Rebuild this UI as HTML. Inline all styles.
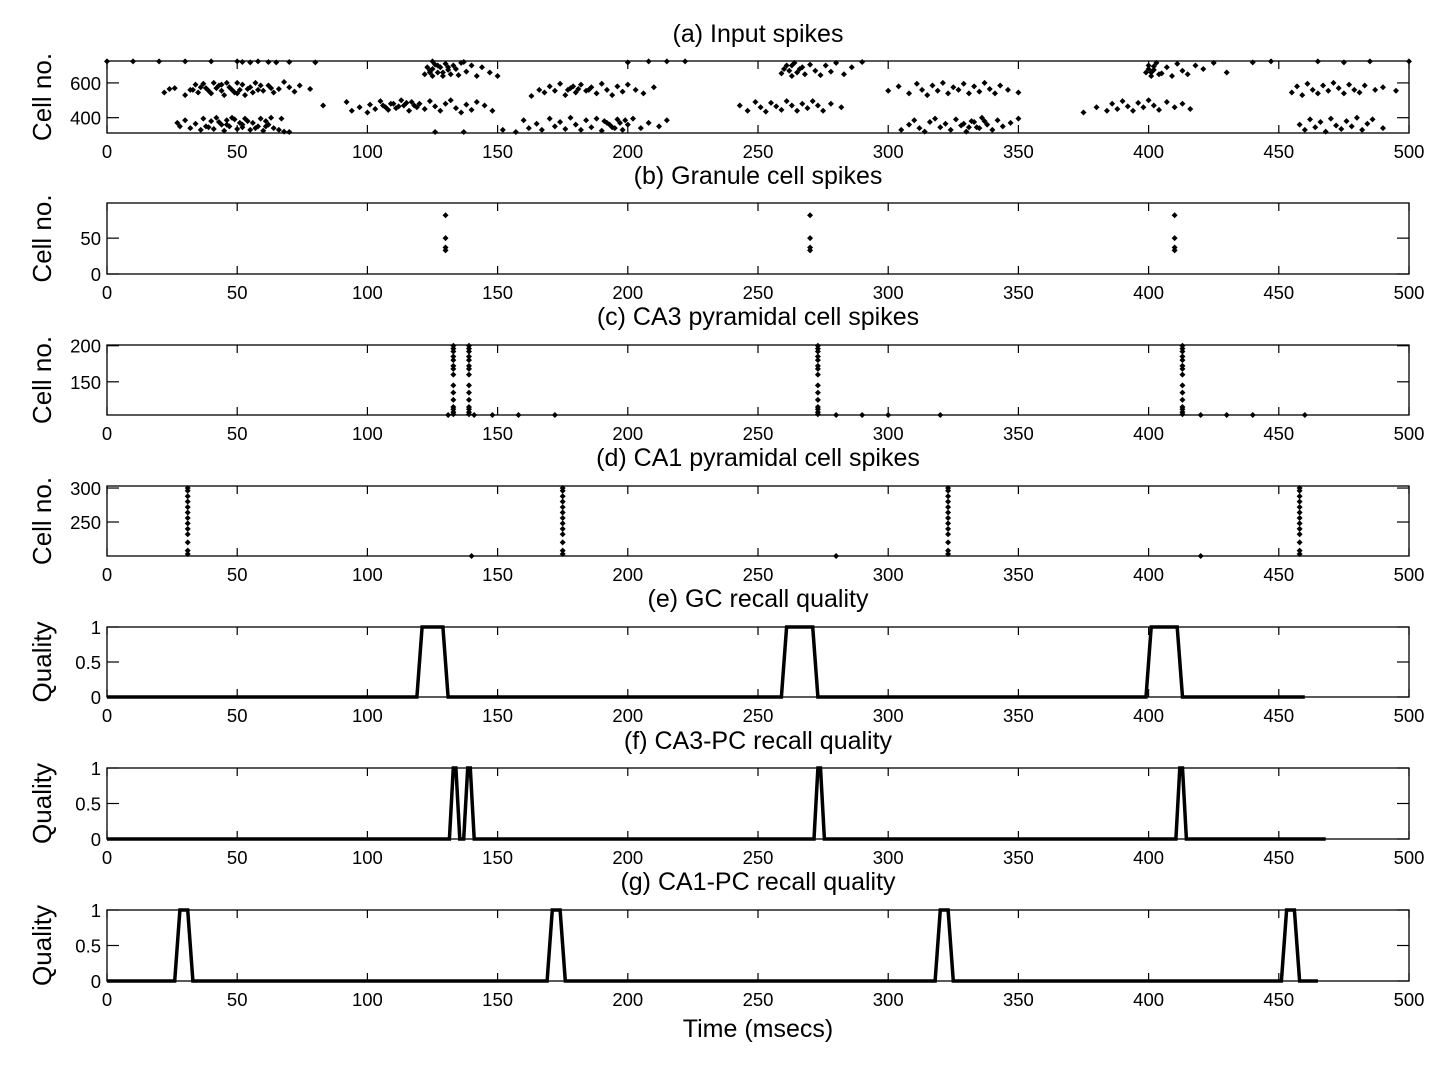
<!DOCTYPE html>
<html><head><meta charset="utf-8">
<style>
html,body{margin:0;padding:0;background:#fff;}
svg{display:block;font-family:"Liberation Sans",sans-serif;}
</style></head>
<body>
<svg id="fig" width="1455" height="1072" viewBox="0 0 1455 1072" xmlns="http://www.w3.org/2000/svg"></svg>
<script>
// ---------- data ----------
const xTicks = [0,50,100,150,200,250,300,350,400,450,500];
const panelTitles = ["(a) Input spikes","(b) Granule cell spikes","(c) CA3 pyramidal cell spikes","(d) CA1 pyramidal cell spikes","(e) GC recall quality","(f) CA3-PC recall quality","(g) CA1-PC recall quality"];
const yLabels = ["Cell no.","Cell no.","Cell no.","Cell no.","Quality","Quality","Quality"];
const yRanges = [[312,726],[0,99],[104,201],[200,303],[0,1],[0,1],[0,1]];
const yTicksA = [400,600];
const yTicksB = [0,50];
const yTicksC = [150,200];
const yTicksD = [250,300];
const yTicksQ = [0,0.5,1];
// input spikes "time,cell" pairs
const inputSpikes = (
"0,724 10,724 20,724 30,724 40,724 50,724 52,720 55,718 58,724 62,720 65,718 70,720 80,718 125,724 137,720 " +
"22,545 24,565 26,570 30,530 32,560 34,590 35,545 37,595 38,570 40,540 41,600 43,585 44,555 45,530 46,600 47,575 49,545 50,600 51,560 52,590 53,530 55,575 56,545 57,600 58,560 60,555 62,585 64,545 66,565 68,605 70,575 72,550 74,585 78,565 " +
"33,560 36,575 39,555 42,570 44,590 48,560 50,540 54,565 59,585 63,570 " +
"27,370 28,350 30,385 32,340 34,365 36,330 37,395 38,350 40,380 41,335 42,400 44,360 45,325 46,385 47,350 48,400 50,335 51,370 52,345 53,395 55,330 56,370 58,350 59,395 60,325 61,380 62,360 63,400 64,340 66,330 67,395 68,320 70,318 " +
"39,345 43,375 46,360 49,390 52,360 54,380 57,340 61,350 " +
"83,470 92,490 94,440 97,460 100,430 101,475 103,450 105,495 106,470 108,445 110,480 111,455 113,500 114,470 116,440 117,490 119,460 120,480 122,450 124,495 126,465 128,440 130,480 132,500 134,455 136,430 138,475 140,445 142,490 145,470 148,440 " +
"107,460 109,480 112,465 115,485 118,470 " +
"122,650 123,690 124,670 125,640 126,705 127,660 128,690 129,640 130,710 131,675 132,650 133,700 134,680 135,645 136,715 138,665 140,700 142,640 144,690 147,660 150,640 126,318 137,318 " +
"124,660 125,680 127,700 129,660 131,690 " +
"163,525 166,560 168,545 170,580 172,555 174,595 176,530 178,570 180,545 182,590 184,555 186,575 188,540 190,595 192,560 194,530 196,580 198,550 200,590 203,560 206,540 210,575 " +
"177,560 179,580 181,565 185,560 " +
"160,385 162,340 165,365 167,330 170,395 172,350 174,375 176,335 178,400 180,360 182,330 184,385 186,345 188,395 190,325 192,370 194,345 196,390 198,330 200,360 202,395 205,340 208,370 212,350 215,385 " +
"191,380 193,360 195,340 197,370 199,385 " +
"152,330 157,318 200,718 208,724 215,724 222,724 " +
"243,470 246,440 249,490 251,460 253,435 255,485 257,465 259,445 261,495 263,470 265,440 267,480 269,455 271,495 273,470 275,440 278,480 282,460 " +
"259,655 261,700 262,670 263,640 264,715 266,680 268,650 270,705 272,670 274,645 276,700 278,665 280,715 283,650 286,690 290,720 " +
"260,680 263,700 265,660 267,690 " +
"300,555 304,580 308,540 311,595 313,560 315,530 317,585 319,555 321,600 323,540 325,575 327,560 329,595 331,540 333,580 335,550 337,600 339,565 341,540 343,585 346,560 350,545 " +
"305,330 308,360 310,385 312,340 314,320 316,375 318,395 320,345 322,365 324,330 326,390 328,355 330,320 332,380 334,345 336,400 338,360 340,330 342,385 344,350 347,370 350,395 " +
"329,365 331,345 333,375 335,340 337,380 " +
"375,430 380,460 384,440 386,480 388,450 390,495 392,465 394,440 396,485 398,460 400,500 402,470 404,445 407,490 410,460 413,480 416,450 " +
"399,660 400,700 401,640 402,675 403,715 405,655 407,690 409,640 411,710 413,670 415,650 418,700 421,680 425,715 430,660 " +
"400,680 401,660 402,695 404,650 " +
"455,545 457,580 459,530 461,595 463,560 465,540 467,585 469,555 471,600 473,570 475,540 477,590 479,560 481,545 483,585 487,560 490,575 495,555 " +
"458,360 460,330 462,390 464,345 466,375 468,320 470,395 472,355 474,335 476,380 478,350 480,400 482,330 484,365 486,390 490,340 " +
"440,718 447,724 465,724 475,718 485,724 500,724"
).split(" ").map(s=>s.split(",").map(Number));
// granule
const gcTimes = [130,270,410];
const gcCells = [33,37,50,82];
// CA3
const ca3Times = [133,139,273,413];
const ca3Cells = [105,108,112,115,125,135,145,160,168,172,180,185,192,196,200];
const ca3ScatterT = [131,141,148,158,172,280,290,300,320,420,430,440,460];
const ca3ScatterC = [104,104,104,104,104,104,104,104,104,104,104,104,104];
// CA1
const ca1Times = [31,175,323,458];
const ca1Cells = [203,208,220,232,240,248,256,264,272,280,288,296,300];
const ca1ScatterT = [140,280,420];
const ca1ScatterC = [200,200,200];
// quality traces
const qualE_t = [0,119,121,129,131,259,261,271,273,399,401,411,413,460];
const qualE_q = [0,0,1,1,0,0,1,1,0,0,1,1,0,0];
const qualF_t = [0,131.5,133,134,135.5,137,138.5,139.5,141,271.5,273,274,275.5,410.5,412,413,414.5,468];
const qualF_q = [0,0,1,1,0,0,1,1,0,0,1,1,0,0,1,1,0,0];
const qualG_t = [0,26,28,31,33,169,171,174,176,318,320,323,325,451,453,456,458,465];
const qualG_q = [0,0,1,1,0,0,1,1,0,0,1,1,0,0,1,1,0,0];

// ---------- layout ----------
const NS="http://www.w3.org/2000/svg";
const svg=document.getElementById('fig');
const X0=107, X1=1409;
const panels=[[61,133],[203,274],[345,415],[486,556],[627,697],[768,839],[910,981]];
const titleY=[42,184,325,466,607,749,890];
function el(tag,attrs,parent){const e=document.createElementNS(NS,tag);for(const k in attrs)e.setAttribute(k,attrs[k]);(parent||svg).appendChild(e);return e;}
const xs=t=>X0+(t/500)*(X1-X0);
function ysFor(i){const [a,b]=yRanges[i];const [top,bot]=panels[i];return v=>bot-(v-a)/(b-a)*(bot-top);}
const yTickSets=[yTicksA,yTicksB,yTicksC,yTicksD,yTicksQ,yTicksQ,yTicksQ];

panels.forEach((p,i)=>{
  const g=el('g',{});
  
  
  const ys=ysFor(i);
  const [top,bot]=p;
  const t=el('text',{x:(X0+X1)/2,y:titleY[i],'text-anchor':'middle','font-size':25,fill:'#000'},g);
  t.textContent=panelTitles[i];
  
  
  const yl=el('text',{x:0,y:0,'text-anchor':'middle','font-size':26,fill:'#000',transform:`translate(51,${(top+bot)/2}) rotate(-90)`},g);
  yl.textContent=yLabels[i];
  
  
  const box=el('rect',{x:X0,y:top,width:X1-X0,height:bot-top,fill:'none',stroke:'#000','stroke-width':1.3},g);
  
  
  xTicks.forEach(v=>{
    const x=xs(v);
    el('line',{x1:x,x2:x,y1:bot,y2:bot-8,stroke:'#000','stroke-width':1.2},g);
    el('line',{x1:x,x2:x,y1:top,y2:top+8,stroke:'#000','stroke-width':1.2},g);
    const tl=el('text',{x:x,y:bot+25,'text-anchor':'middle','font-size':18.5,fill:'#000'},g);
    tl.textContent=v;
    
    
  });
  yTickSets[i].forEach(v=>{
    const y=ys(v);
    el('line',{x1:X0,x2:X0+12,y1:y,y2:y,stroke:'#000','stroke-width':1.2},g);
    el('line',{x1:X1,x2:X1-12,y1:y,y2:y,stroke:'#000','stroke-width':1.2},g);
    const tl=el('text',{x:X0-6,y:y+7,'text-anchor':'end','font-size':18.5,fill:'#000'},g);
    tl.textContent=v;
    
    
  });
});

function dot(t,c,i){
  const ys=ysFor(i);const x=xs(t),y=ys(c);const r=3;
  const d=el('path',{d:`M${x} ${y-r}L${x+r} ${y}L${x} ${y+r}L${x-r} ${y}Z`,fill:'#000'});
  
  
}
inputSpikes.forEach(([t,c])=>dot(t,c,0));
gcTimes.forEach(t=>gcCells.forEach(c=>dot(t,c,1)));
ca3Times.forEach(t=>ca3Cells.forEach(c=>dot(t,c,2)));
ca3ScatterT.forEach((t,k)=>dot(t,ca3ScatterC[k],2));
ca1Times.forEach(t=>ca1Cells.forEach(c=>dot(t,c,3)));
ca1ScatterT.forEach((t,k)=>dot(t,ca1ScatterC[k],3));

function trace(ts,qs,i,name){
  const ys=ysFor(i);
  const d=ts.map((t,k)=>(k?'L':'M')+xs(t).toFixed(1)+' '+ys(qs[k]).toFixed(1)).join('');
  const p=el('path',{d:d,fill:'none',stroke:'#000','stroke-width':3.5,'stroke-linejoin':'miter'});
  
  
}
trace(qualE_t,qualE_q,4,'gc-quality-line');
trace(qualF_t,qualF_q,5,'ca3-quality-line');
trace(qualG_t,qualG_q,6,'ca1-quality-line');

const xl=el('text',{x:(X0+X1)/2,y:1037,'text-anchor':'middle','font-size':25,fill:'#000'});
xl.textContent='Time (msecs)';


</script>
</body></html>
